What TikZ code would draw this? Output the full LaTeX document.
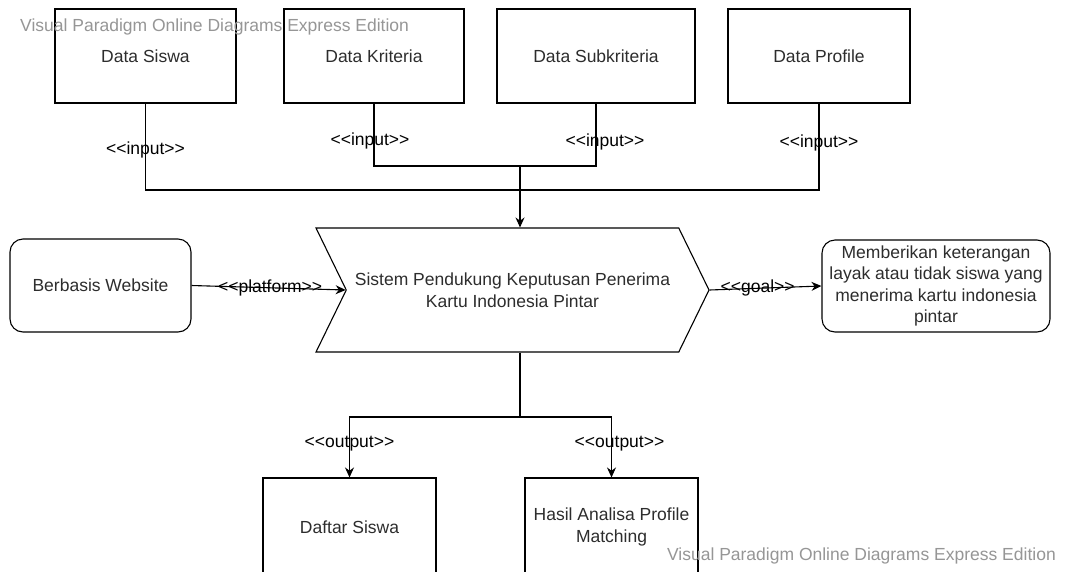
\documentclass[tikz,border=0pt]{standalone}
\usepackage{fontspec}
\setmainfont{Liberation Sans}
\usepackage{tikz}
\usetikzlibrary{shapes.symbols, arrows.meta, positioning}
\definecolor{wmgray}{RGB}{150,150,150}
\definecolor{txtgray}{RGB}{45,45,45}
\newcommand{\stereo}[1]{<\kern0pt<#1>\kern0pt>}

\begin{document}
\begin{tikzpicture}[x=1pt, y=-1pt,
    font=\fontsize{17.5}{21.5}\selectfont,
    databox/.style={draw, line width=1.1pt, minimum height=94pt, inner sep=2pt, text=txtgray},
    roundbox/.style={draw, line width=1.1pt, rounded corners=13pt, inner sep=2pt, align=center, text=txtgray},
    link/.style={line width=1.1pt},
    arr/.style={line width=1.1pt, -{Stealth[length=10pt,width=9pt]}},
    lbl/.style={inner sep=0pt, text=black}]
    \useasboundingbox (0,0) rectangle (1067,571);
    \clip (0,0) rectangle (1067,571);
    \fill[white] (0,0) rectangle (1067,571);

    % input data
    \node (siswa) [databox, minimum width=181pt] at (145.5,56) {Data Siswa};
    \node (kriteria) [databox, minimum width=180pt] at (374,56) {Data Kriteria};
    \node (subkrit) [databox, minimum width=198pt] at (596,56) {Data Subkriteria};
    \node (profile) [databox, minimum width=182pt] at (819,56) {Data Profile};

    % system
    \node (spk) [signal, signal from=west, signal to=east, signal pointer angle=128,
        draw, line width=1.1pt, minimum width=393pt, minimum height=124pt,
        align=center, text=txtgray] at (512.5,290)
        {Sistem Pendukung Keputusan Penerima\\Kartu Indonesia Pintar};
    \node (web) [roundbox, minimum width=181pt, minimum height=93pt] at (100.5,285.5) {Berbasis Website};
    \node (goal) [roundbox, minimum width=228pt, minimum height=92pt] at (936,286)
        {Memberikan keterangan\\layak atau tidak siswa yang\\menerima kartu indonesia\\pintar};

    % output
    \node (daftar) [databox, minimum width=173pt, minimum height=98pt] at (349.5,527) {Daftar Siswa};
    \node (hasil) [databox, minimum width=173pt, minimum height=98pt, align=center] at (611.5,527)
        {Hasil Analisa Profile\\Matching};

    \coordinate (hubin) at (520,166);
    \coordinate (hubout) at (520,190);
    \coordinate (split) at (520,417);

    \draw[link] (siswa.south) |- node[lbl, pos=0.27] {\stereo{input}} (hubout);
    \draw[link] (kriteria.south) |- node[lbl, pos=0.3, xshift=-4pt] {\stereo{input}} (hubin);
    \draw[link] (subkrit.south) |- node[lbl, pos=0.31, xshift=9pt] {\stereo{input}} (hubin);
    \draw[link] (profile.south) |- node[lbl, pos=0.23] {\stereo{input}} (hubout);
    \draw[arr] (hubin) -- (hubin |- spk.north);

    \draw[arr] (web.east) -- node[lbl, pos=0.51] {\stereo{platform}} (spk.west);
    \draw[arr] (spk.east) -- node[lbl, pos=0.43] {\stereo{goal}} (goal.west);

    \draw[link] (split |- spk.south) -- (split);
    \draw[arr] (split) -| node[lbl, pos=0.72] {\stereo{output}} (daftar.north);
    \draw[arr] (split) -| node[lbl, pos=0.72, xshift=8pt] {\stereo{output}} (hasil.north);

    % watermark text
    \node (wmtop) [anchor=west, inner sep=0pt, text=wmgray] at (20,27) {Visual Paradigm Online Diagrams Express Edition};
    \node (wmbottom) [anchor=east, inner sep=0pt, text=wmgray] at (1056,556) {Visual Paradigm Online Diagrams Express Edition};
\end{tikzpicture}
\end{document}
